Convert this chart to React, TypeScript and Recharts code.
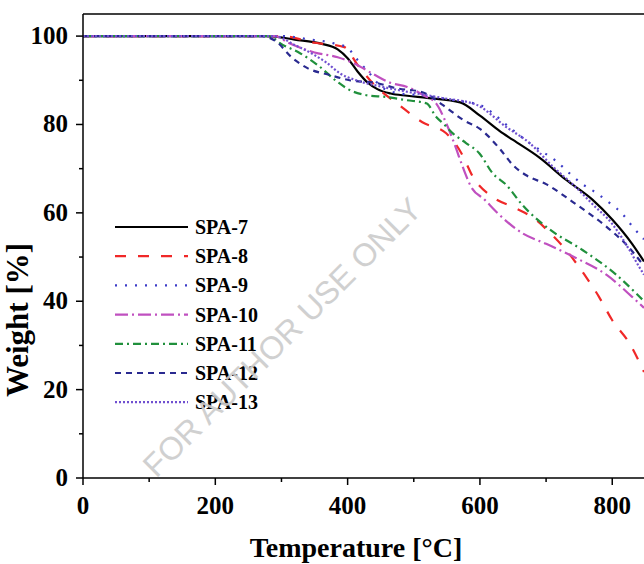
import React from 'react'
import { LineChart, Line, XAxis, YAxis, ReferenceLine, Legend } from 'recharts'

// temperature (°C) / weight (%)
const spa7T = [0, 280, 320, 360, 385, 400, 415, 430, 445, 465, 490, 520, 570, 600, 630, 650, 690, 730, 770, 800, 830, 848]
const spa7W = [100, 100, 99.2, 98.3, 97, 95, 92, 89.5, 88, 87, 86.5, 86, 85, 82, 78.5, 76.5, 72.5, 67.5, 63, 58.5, 53, 49]

const spa8T = [0, 300, 350, 395, 415, 440, 478, 513, 549, 572, 590, 619, 655, 685, 705, 730, 758, 780, 800, 826, 848]
const spa8W = [100, 100, 98.5, 97.5, 93.5, 89, 84.4, 80.5, 78, 73.5, 68, 63.6, 61, 58.4, 55.6, 51.6, 46, 41, 35.7, 30.5, 24]

const spa9T = [0, 300, 340, 378, 400, 415, 433, 451, 480, 520, 560, 600, 619, 637, 675, 695, 717, 735, 753, 776, 798, 814, 830, 848]
const spa9W = [100, 100, 99.3, 98.4, 97.3, 94.6, 91.6, 88.5, 87, 86.5, 85.5, 84.4, 82.6, 80.3, 75.8, 73.8, 71.5, 69, 66.7, 64.5, 62, 60, 57, 54]

const spa10T = [0, 290, 310, 350, 385, 410, 440, 465, 490, 515, 535, 549, 561, 574, 587, 607, 625, 664, 700, 745, 791, 830, 848]
const spa10W = [100, 100, 98.5, 96.3, 95.2, 93.8, 91.3, 89.4, 88.5, 86.6, 84.5, 80.3, 75.8, 70.4, 65.8, 63, 60.2, 55.4, 53, 49.8, 46, 41, 38.5]

const spa11T = [0, 280, 302, 325, 355, 385, 403, 426, 459, 489, 519, 534, 546, 559, 579, 599, 619, 640, 664, 705, 755, 806, 836, 848]
const spa11W = [100, 100, 98, 96.4, 93.4, 89.6, 87.8, 86.7, 86.2, 85.5, 84.8, 81.7, 80, 78, 75.8, 73.5, 69, 66.3, 61.8, 56.3, 51.6, 46, 41.8, 40]

const spa12T = [0, 270, 290, 317, 340, 373, 403, 443, 474, 513, 543, 575, 600, 630, 650, 670, 700, 740, 790, 820, 848]
const spa12W = [100, 100, 99, 95, 92.7, 91.2, 90, 89.4, 88.2, 87.3, 84.5, 81, 79, 74.5, 70.8, 68.5, 66.5, 62.5, 57, 53, 48]

const spa13T = [0, 290, 320, 350, 368, 388, 413, 453, 494, 543, 594, 640, 675, 710, 745, 770, 800, 826, 841, 848]
const spa13W = [100, 100, 98, 95.7, 94, 91.6, 90, 88.5, 87.3, 86, 84.5, 79.4, 75.8, 70.5, 65.8, 62, 57.5, 51.6, 47.7, 46]

const xTicks = [0, 100, 200, 300, 400, 500, 600, 700, 800]
const yTicks = [0, 10, 20, 30, 40, 50, 60, 70, 80, 90, 100]

const toRows = (t: number[], w: number[]) => t.map((x, i) => ({ t: x, w: w[i] }))

const series = [
  { name: 'SPA-7', data: toRows(spa7T, spa7W), color: '#000000', dash: undefined },
  { name: 'SPA-8', data: toRows(spa8T, spa8W), color: '#f02828', dash: '11 12' },
  { name: 'SPA-9', data: toRows(spa9T, spa9W), color: '#3c3cc8', dash: '2 8' },
  { name: 'SPA-10', data: toRows(spa10T, spa10W), color: '#c050c0', dash: '13 4 2 4' },
  { name: 'SPA-11', data: toRows(spa11T, spa11W), color: '#20903c', dash: '8 4 2 4' },
  { name: 'SPA-12', data: toRows(spa12T, spa12W), color: '#2a2a90', dash: '6 5' },
  { name: 'SPA-13', data: toRows(spa13T, spa13W), color: '#7050d0', dash: '2 2' },
]

const serif = '"Liberation Serif", "Times New Roman", serif'

const XTick = (props: any) => {
  const { x, y, payload } = props
  const major = payload.value % 200 === 0
  return (
    <g>
      <line x1={x} y1={y} x2={x} y2={y + (major ? 7 : 4)} stroke="#000" strokeWidth={1.5} />
      {major && (
        <text x={x} y={y + 36} textAnchor="middle" fontFamily={serif} fontWeight="bold" fontSize={25} fill="#000">
          {payload.value}
        </text>
      )}
    </g>
  )
}

const YTick = (props: any) => {
  const { x, y, payload } = props
  const major = payload.value % 20 === 0
  return (
    <g>
      <line x1={x} y1={y} x2={x - (major ? 7 : 4)} y2={y} stroke="#000" strokeWidth={1.5} />
      {major && (
        <text x={x - 15} y={y + 8} textAnchor="end" fontFamily={serif} fontWeight="bold" fontSize={25} fill="#000">
          {payload.value}
        </text>
      )}
    </g>
  )
}

const renderLegend = () => (
  <svg width={200} height={210}>
    {series.map((s, i) => {
      const cy = 15 + i * 29.2
      return (
        <g key={s.name}>
          <line x1={5} y1={cy} x2={78} y2={cy} stroke={s.color} strokeWidth={2.2} strokeDasharray={s.dash} />
          <text x={85} y={cy + 7} fontFamily={serif} fontWeight="bold" fontSize={20} fill="#000">
            {s.name}
          </text>
        </g>
      )
    })}
  </svg>
)

export default function App() {
  return (
    <div style={{ position: 'absolute', left: 0, top: 0, width: 644, height: 564, background: '#fff', overflow: 'hidden' }}>
      <LineChart width={644} height={564} margin={{ top: 14, right: 0, left: 0, bottom: 0 }}>
        <XAxis
          dataKey="t"
          type="number"
          domain={[0, 848]}
          allowDataOverflow
          ticks={xTicks}
          interval={0}
          height={86}
          tickSize={0}
          tickMargin={0}
          tick={<XTick />}
          axisLine={{ stroke: '#000', strokeWidth: 1.5 }}
          tickLine={false}
        />
        <YAxis
          dataKey="w"
          type="number"
          domain={[0, 105]}
          allowDataOverflow
          ticks={yTicks}
          interval={0}
          width={83}
          tickSize={0}
          tickMargin={0}
          tick={<YTick />}
          axisLine={{ stroke: '#000', strokeWidth: 1.5 }}
          tickLine={false}
        />
        <ReferenceLine y={105} stroke="#000" strokeWidth={1.5} ifOverflow="visible" />
        <Legend
          layout="vertical"
          align="center"
          verticalAlign="middle"
          content={renderLegend}
          wrapperStyle={{ left: 110, top: 212, width: 200, height: 210 }}
        />
        {series.map((s) => (
          <Line
            key={s.name}
            data={s.data}
            dataKey="w"
            name={s.name}
            type="monotone"
            stroke={s.color}
            strokeWidth={2.2}
            strokeDasharray={s.dash}
            dot={false}
            activeDot={false}
            isAnimationActive={false}
          />
        ))}
      </LineChart>
      <svg width={644} height={564} style={{ position: 'absolute', left: 0, top: 0, pointerEvents: 'none' }}>
        <text x={28} y={320} transform="rotate(-90 28 320)" textAnchor="middle" fontFamily={serif} fontWeight="bold" fontSize={31} fill="#000">
          Weight [%]
        </text>
        <text x={356} y={557} textAnchor="middle" fontFamily={serif} fontWeight="bold" fontSize={28} fill="#000">
          Temperature [°C]
        </text>
        <text
          x={290}
          y={345}
          transform="rotate(-45 290 345)"
          textAnchor="middle"
          fontFamily='"Liberation Sans", Arial, sans-serif'
          fontSize={32}
          fill="#cccccc"
          opacity={0.9}
        >
          FOR AUTHOR USE ONLY
        </text>
      </svg>
    </div>
  )
}
